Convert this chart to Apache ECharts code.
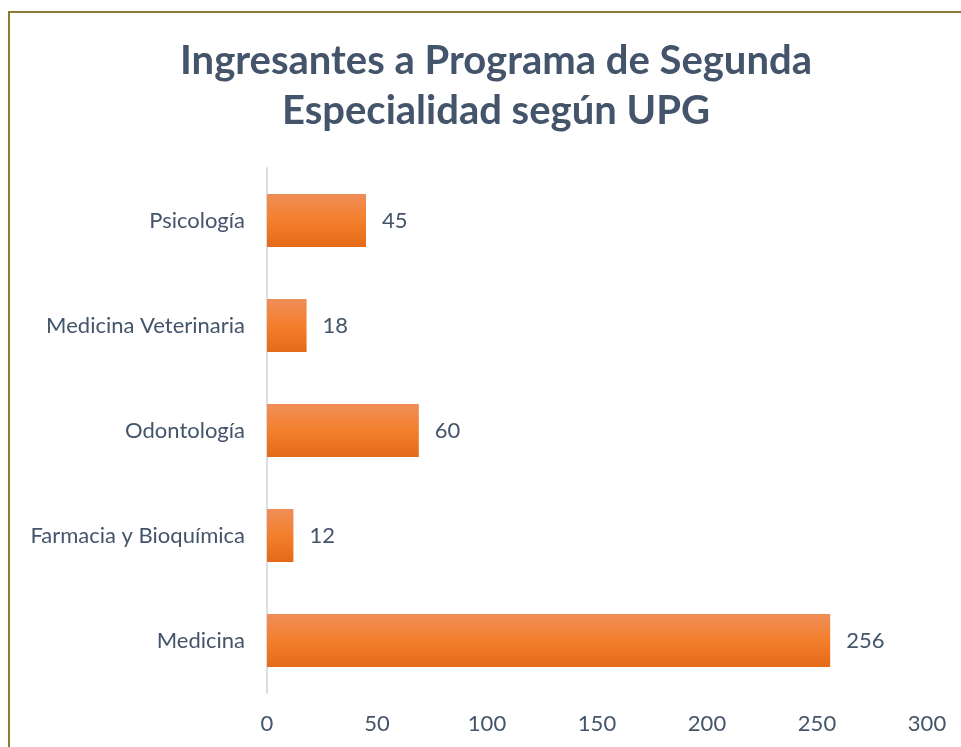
<!DOCTYPE html>
<html>
<head>
<meta charset="utf-8">
<script src="https://cdn.jsdelivr.net/npm/echarts@6/dist/echarts.min.js"></script>
<style>
  html, body { margin: 0; padding: 0; background: #fff; }
  #chart { width: 961px; height: 747px; }
</style>
</head>
<body>
<div id="chart"></div>
<script>
// categories bottom -> top (as echarts category axis draws them)
const categories = ["Medicina", "Farmacia y Bioquímica", "Odontología", "Medicina Veterinaria", "Psicología"];
// bar lengths as drawn in the picture
const barValues = [256, 12, 69, 18, 45];
// labels printed next to the bars
const barLabels = ["256", "12", "60", "18", "45"];
const xTicks = [0, 50, 100, 150, 200, 250, 300];

const textColor = "#44546A";
const chart = echarts.init(document.getElementById("chart"));

const option = {
    animation: false,
    textStyle: { fontFamily: "Lato" },
    title: {
        text: "Ingresantes a Programa de Segunda\nEspecialidad según UPG",
        left: 491,
        top: 31,
        textAlign: "center",
        textStyle: {
            color: textColor,
            fontFamily: "Lato",
            fontWeight: "bold",
            fontSize: 40,
            lineHeight: 50
        }
    },
    graphic: [{
        type: "rect",
        shape: { x: 9, y: 12, width: 1000, height: 800 },
        style: { fill: null, stroke: "#8C7A35", lineWidth: 2 },
        silent: true
    }],
    grid: { left: 267, right: 34, top: 168, bottom: 54 },
    xAxis: {
        type: "value",
        min: xTicks[0],
        max: xTicks[xTicks.length - 1],
        interval: 50,
        splitLine: { show: false },
        axisLine: { show: false },
        axisTick: { show: false },
        axisLabel: { color: textColor, fontSize: 22, margin: 20 }
    },
    yAxis: {
        type: "category",
        data: categories,
        axisTick: { show: false },
        axisLine: { lineStyle: { color: "#D9DEE6", width: 2 } },
        axisLabel: { color: textColor, fontSize: 22, margin: 22 }
    },
    series: [{
        type: "bar",
        data: barValues,
        barWidth: 53,
        itemStyle: {
            color: {
                type: "linear", x: 0, y: 0, x2: 0, y2: 1,
                colorStops: [
                    { offset: 0, color: "#F08E58" },
                    { offset: 0.5, color: "#F37F2C" },
                    { offset: 1, color: "#E46A18" }
                ]
            }
        },
        label: {
            show: true,
            position: "right",
            distance: 16,
            color: textColor,
            fontSize: 22,
            formatter: function (p) { return barLabels[p.dataIndex]; }
        }
    }]
};
chart.setOption(option);
</script>
</body>
</html>
